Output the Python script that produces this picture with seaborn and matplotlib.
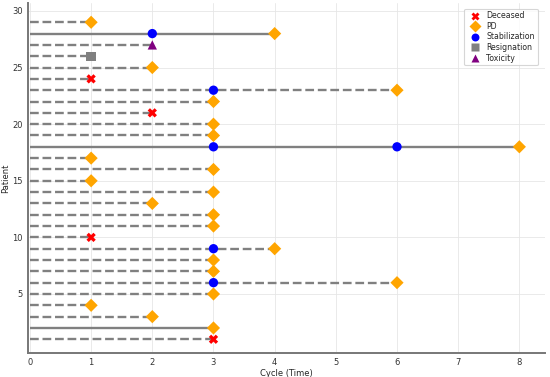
import matplotlib
matplotlib.use("Agg")
import matplotlib.pyplot as plt
import seaborn as sns
import pandas as pd

# ---- data ----
patients = list(range(1, 30))
end_cycle = [3, 3, 2, 1, 3, 6, 3, 3, 4, 1,
             3, 3, 2, 3, 1, 3, 1, 8, 3, 3,
             2, 3, 6, 1, 2, 1, 2, 4, 1]
solid_patients = [2, 18, 28]   # drawn as solid lines, the rest dashed

event_patient = [1, 2, 3, 4, 5, 6, 6, 7, 8, 9, 9, 10,
                 11, 12, 13, 14, 15, 16, 17, 18, 18, 18, 19, 20,
                 21, 22, 23, 23, 24, 25, 26, 27, 28, 28, 29]
event_cycle = [3, 3, 2, 1, 3, 3, 6, 3, 3, 3, 4, 1,
               3, 3, 2, 3, 1, 3, 1, 3, 6, 8, 3, 3,
               2, 3, 3, 6, 1, 2, 1, 2, 2, 4, 1]
event_type = ["Deceased", "PD", "PD", "PD", "PD", "Stabilization", "PD", "PD", "PD",
              "Stabilization", "PD", "Deceased",
              "PD", "PD", "PD", "PD", "PD", "PD", "PD",
              "Stabilization", "Stabilization", "PD", "PD", "PD",
              "Deceased", "PD", "Stabilization", "PD", "Deceased", "PD",
              "Resignation", "Toxicity", "Stabilization", "PD", "PD"]

event_order = ["Deceased", "PD", "Stabilization", "Resignation", "Toxicity"]
palette = {"Deceased": "red", "PD": "orange", "Stabilization": "blue",
           "Resignation": "gray", "Toxicity": "purple"}
markers = {"Deceased": "X", "PD": "D", "Stabilization": "o",
           "Resignation": "s", "Toxicity": "^"}

events = pd.DataFrame({"Patient": event_patient, "Cycle": event_cycle, "Event": event_type})

# ---- plot ----
sns.set_style("whitegrid", {"grid.color": "#e6e6e6", "grid.linestyle": "-"})
plt.rcParams["font.family"] = ["DejaVu Sans"]

fig, ax = plt.subplots(figsize=(5.5, 3.77), dpi=100)
fig.subplots_adjust(left=0.05, right=0.991, bottom=0.064, top=0.992)

for p, end in zip(patients, end_cycle):
    ls = "-" if p in solid_patients else "--"
    ax.hlines(p, 0, end, colors="gray", linestyles=ls, linewidth=1.7, zorder=2)

sns.scatterplot(data=events, x="Cycle", y="Patient", hue="Event", style="Event",
                hue_order=event_order, style_order=event_order,
                palette=palette, markers=markers, s=45, edgecolor="none",
                ax=ax, zorder=3)

ax.set_xlim(-0.04, 8.42)
ax.set_ylim(-0.2, 30.7)
ax.set_yticks([5, 10, 15, 20, 25, 30])
ax.set_xticks(range(0, 9))
ax.tick_params(labelsize=6, length=2, pad=1.5, color="#555555", colors="#333333")
ax.set_xlabel("Cycle (Time)", fontsize=6, labelpad=1.5)
ax.set_ylabel("Patient", fontsize=6, labelpad=1.5)
ax.grid(True, linewidth=0.6)

for side in ["top", "right"]:
    ax.spines[side].set_visible(False)
for side in ["left", "bottom"]:
    ax.spines[side].set_color("#777777")
    ax.spines[side].set_linewidth(1.4)

leg = ax.legend(loc="upper right", fontsize=5.6, title=None, frameon=True,
                handletextpad=0.5, borderpad=0.35, labelspacing=0.2,
                markerscale=0.85, bbox_to_anchor=(0.993, 0.995))
leg.get_frame().set_edgecolor("#cccccc")
leg.get_frame().set_linewidth(0.8)

plt.savefig("out.png", dpi=100)
plt.close()
